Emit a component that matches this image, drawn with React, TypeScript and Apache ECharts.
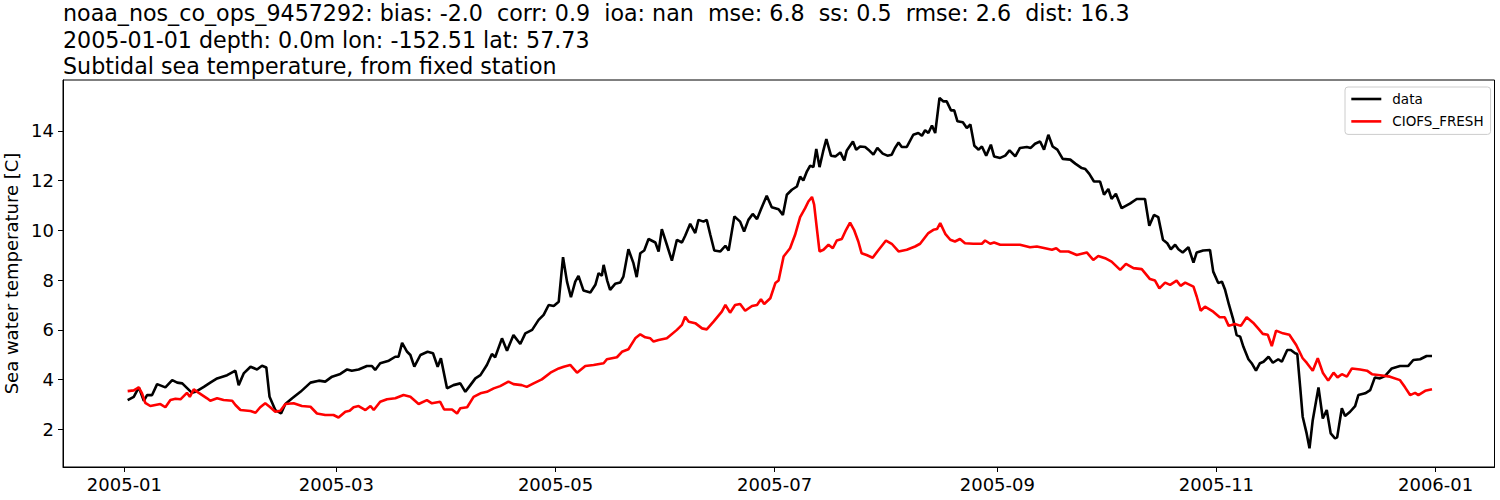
import React, { useEffect, useRef } from "react";
import * as echarts from "echarts";

const titleLines = [
  "noaa_nos_co_ops_9457292: bias: -2.0  corr: 0.9  ioa: nan  mse: 6.8  ss: 0.5  rmse: 2.6  dist: 16.3",
  "2005-01-01 depth: 0.0m lon: -152.51 lat: 57.73",
  "Subtidal sea temperature, from fixed station",
];
const yAxisTitle = "Sea water temperature [C]";
const seriesNames = ["data", "CIOFS_FRESH"];
const xTickLabels = ["2005-01", "2005-03", "2005-05", "2005-07", "2005-09", "2005-11", "2006-01"];
const yTickValues = [2, 4, 6, 8, 10, 12, 14];

// days after 2005-01-01
const obsDays = [
  0.9, 2.6, 4.0, 5.4, 6.3, 7.7, 9.1, 11.4, 13.3, 14.7, 16.1, 18.8, 19.8, 22.1, 23.9, 25.8, 28.6, 30.9, 31.8, 33.2,
  35.1, 36.9, 38.3, 39.5, 40.4, 42.0, 43.6, 44.8, 46.7, 49.0, 51.8, 54.1, 55.9, 57.8, 60.1, 62.0, 63.3, 65.2, 67.5, 68.9,
  69.8, 71.2, 73.6, 75.4, 76.3, 77.3, 78.7, 79.6, 80.7, 82.4, 84.4, 85.9, 87.2, 88.1, 89.8, 91.6, 93.5, 94.9, 96.3, 97.7,
  99.1, 100.9, 102.3, 103.2, 105.1, 106.5, 108.3, 110.2, 111.6, 113.5, 115.3, 116.7, 118.1, 119.5, 120.9, 122.1, 123.2, 124.3, 125.5, 126.4,
  127.8, 129.7, 131.1, 132.0, 132.9, 133.4, 134.4, 135.2, 136.6, 138.0, 138.9, 140.3, 141.7, 142.6, 143.6, 144.7, 145.9, 147.8, 148.7, 149.6,
  151.0, 152.4, 153.8, 155.2, 156.1, 157.5, 158.9, 159.8, 161.2, 162.1, 163.1, 164.2, 165.9, 167.3, 168.2, 169.8, 171.4, 172.5, 173.7, 174.9,
  176.1, 177.2, 178.8, 180.2, 182.1, 183.3, 184.4, 185.8, 187.2, 188.1, 189.0, 190.0, 190.9, 191.8, 192.6, 193.5, 194.5, 195.4, 196.7, 197.9,
  199.3, 200.4, 201.1, 202.8, 203.7, 204.8, 206.2, 207.1, 208.5, 209.6, 211.1, 212.4, 213.6, 214.5, 215.5, 216.4, 217.8, 219.6, 221.0, 222.0,
  222.9, 223.8, 224.8, 225.7, 226.9, 228.0, 228.9, 230.1, 231.0, 231.9, 233.4, 234.5, 235.5, 236.6, 237.8, 238.7, 239.9, 241.2, 242.1, 243.8,
  245.2, 246.4, 248.0, 249.3, 251.2, 252.3, 253.5, 254.9, 256.0, 257.2, 258.4, 259.7, 261.2, 263.3, 264.7, 266.5, 267.5, 268.6, 269.9, 271.6,
  272.7, 273.9, 274.8, 276.0, 277.6, 279.9, 281.8, 284.1, 285.3, 286.6, 287.8, 289.1, 290.3, 291.3, 292.5, 293.4, 294.6, 296.2, 297.6, 298.5,
  300.3, 302.2, 303.1, 304.5, 305.5, 306.4, 307.5, 308.7, 309.6, 310.6, 311.5, 312.9, 313.8, 315.0, 316.1, 317.1, 318.5, 319.7, 321.2, 322.2,
  323.7, 324.7, 325.9, 326.5, 327.3, 328.0, 329.1, 329.9, 330.8, 332.4, 333.6, 334.7, 335.8, 337.0, 337.6, 338.9, 339.8, 341.2, 342.6, 343.5,
  345.4, 346.8, 348.1, 349.5, 350.9, 352.8, 355.1, 357.4, 358.8, 360.7, 362.5, 364.0,
];
const obsTemps = [
  3.18, 3.31, 3.69, 3.15, 3.38, 3.38, 3.82, 3.69, 3.98, 3.88, 3.85, 3.47, 3.51, 3.71, 3.88, 4.05, 4.18, 4.36, 3.78, 4.25,
  4.52, 4.41, 4.56, 4.49, 3.31, 2.78, 2.64, 3.02, 3.25, 3.51, 3.88, 3.96, 3.92, 4.12, 4.23, 4.41, 4.36, 4.41, 4.55, 4.55,
  4.39, 4.66, 4.76, 4.92, 4.92, 5.48, 5.12, 4.99, 4.52, 4.99, 5.12, 5.06, 4.52, 4.86, 3.65, 3.78, 3.85, 3.51, 3.78, 4.05,
  4.18, 4.59, 5.03, 4.90, 5.66, 5.16, 5.79, 5.43, 5.86, 6.00, 6.40, 6.60, 7.00, 6.96, 7.13, 8.92, 7.94, 7.31, 7.94, 8.17,
  7.58, 7.50, 7.81, 8.28, 8.17, 8.61, 7.98, 7.61, 7.85, 7.90, 8.14, 9.24, 8.68, 8.12, 9.08, 9.19, 9.65, 9.51, 9.15, 10.05,
  9.42, 8.78, 9.62, 9.51, 9.78, 10.26, 9.89, 10.42, 10.35, 10.42, 9.82, 9.19, 9.15, 9.38, 9.19, 10.56, 10.35, 9.95, 10.42, 10.66,
  10.45, 10.85, 11.39, 10.93, 10.85, 10.62, 11.43, 11.63, 11.76, 12.16, 12.0, 12.37, 12.60, 12.54, 13.27, 12.54, 13.17, 13.67, 13.00, 12.97,
  13.13, 12.81, 13.21, 13.57, 13.24, 13.37, 13.35, 13.24, 13.04, 13.31, 13.08, 13.00, 13.04, 13.31, 13.53, 13.35, 13.35, 13.84, 13.91, 13.80,
  14.02, 13.91, 14.21, 13.91, 15.32, 15.18, 15.18, 14.82, 14.82, 14.38, 14.34, 14.11, 14.25, 13.40, 13.24, 13.37, 13.00, 13.44, 12.97, 12.91,
  13.00, 13.21, 12.97, 13.31, 13.35, 13.31, 13.48, 13.57, 13.24, 13.84, 13.37, 13.24, 12.87, 12.84, 12.68, 12.50, 12.46, 12.27, 11.96, 11.96,
  11.43, 11.66, 11.26, 11.47, 10.89, 11.07, 11.26, 11.26, 10.18, 10.62, 10.53, 9.62, 9.48, 9.24, 9.42, 9.24, 9.11, 9.32, 8.70, 9.11,
  9.19, 9.21, 8.34, 7.88, 7.94, 7.61, 7.00, 6.40, 5.79, 5.73, 5.32, 4.82, 4.66, 4.36, 4.66, 4.72, 4.92, 4.68, 4.82, 4.72,
  5.19, 5.19, 5.06, 5.03, 3.71, 2.51, 1.84, 1.24, 2.37, 3.69, 2.44, 2.78, 1.84, 1.64, 1.68, 2.85, 2.54, 2.71, 2.94, 3.38,
  3.45, 3.58, 4.09, 4.05, 4.14, 4.45, 4.55, 4.55, 4.79, 4.82, 4.95, 4.95,
];

const modelDays = [
  0.9, 2.6, 4.0, 4.9, 5.8, 7.2, 8.6, 10.0, 11.4, 12.8, 14.2, 15.6, 17.4, 18.2, 19.3, 20.7, 23.0, 23.9, 25.8, 27.6,
  30.0, 30.9, 32.3, 35.1, 36.5, 37.8, 39.2, 40.6, 42.0, 43.4, 44.8, 47.1, 49.4, 51.8, 53.6, 55.9, 58.2, 59.6, 61.5, 62.7,
  63.8, 65.2, 67.1, 68.5, 69.4, 71.2, 73.1, 75.4, 77.7, 79.6, 81.9, 84.2, 85.6, 87.9, 89.0, 91.2, 92.6, 93.5, 95.4, 97.2,
  99.1, 100.9, 102.8, 104.6, 106.9, 108.3, 110.6, 112.0, 113.9, 116.2, 118.6, 120.9, 122.3, 124.1, 126.0, 128.3, 130.6, 133.4, 134.3, 137.1,
  138.5, 140.3, 142.2, 143.6, 145.0, 146.4, 147.3, 148.7, 151.0, 153.8, 155.2, 156.1, 157.1, 158.9, 160.8, 162.1, 164.0, 166.3, 167.3, 168.6,
  170.0, 171.4, 172.8, 174.7, 176.1, 177.2, 178.1, 179.8, 181.2, 182.1, 183.5, 185.3, 186.7, 188.1, 189.5, 190.4, 191.4, 192.0, 192.8, 193.5,
  194.6, 196.0, 197.2, 198.3, 199.7, 200.9, 202.0, 203.1, 204.3, 205.2, 206.6, 208.3, 209.6, 212.0, 213.6, 215.5, 217.8, 220.1, 221.5, 223.8,
  225.2, 226.2, 227.1, 228.5, 229.9, 231.2, 232.6, 234.0, 236.3, 238.7, 239.6, 241.0, 242.1, 243.8, 246.6, 249.3, 252.1, 254.0, 256.3, 258.2,
  259.4, 260.5, 262.8, 265.1, 267.9, 269.7, 271.1, 273.0, 274.8, 277.2, 278.8, 280.9, 283.2, 285.5, 286.9, 288.1, 289.7, 291.1, 292.9, 294.0,
  295.3, 297.6, 298.5, 299.6, 300.8, 303.1, 304.9, 306.3, 307.4, 309.1, 310.8, 312.4, 314.2, 315.6, 316.9, 318.3, 319.4, 320.6, 322.5, 324.3,
  326.2, 328.0, 329.1, 330.8, 332.2, 333.6, 335.1, 336.6, 337.7, 338.9, 340.3, 341.7, 344.0, 345.9, 347.3, 349.5, 352.3, 355.1, 356.5, 357.9,
  359.3, 360.2, 362.1, 364.0,
];
const modelTemps = [
  3.54, 3.57, 3.69, 3.45, 3.07, 2.94, 2.98, 3.02, 2.89, 3.18, 3.23, 3.21, 3.47, 3.31, 3.61, 3.47, 3.25, 3.15, 3.25, 3.18,
  3.15, 2.98, 2.78, 2.74, 2.67, 2.89, 3.05, 2.89, 2.71, 2.75, 3.02, 3.05, 2.94, 2.91, 2.64, 2.58, 2.58, 2.48, 2.71, 2.75,
  2.89, 2.94, 2.78, 2.94, 2.78, 3.11, 3.21, 3.25, 3.38, 3.31, 3.02, 3.18, 3.05, 3.11, 2.80, 2.80, 2.64, 2.85, 2.89, 3.31,
  3.45, 3.51, 3.65, 3.74, 3.92, 3.82, 3.78, 3.71, 3.85, 4.01, 4.28, 4.45, 4.52, 4.59, 4.28, 4.55, 4.59, 4.66, 4.82, 4.90,
  5.12, 5.22, 5.66, 5.82, 5.70, 5.66, 5.53, 5.59, 5.66, 6.00, 6.20, 6.53, 6.33, 6.27, 6.06, 6.02, 6.33, 6.73, 7.00, 6.69,
  7.00, 7.04, 6.77, 6.96, 7.00, 7.23, 7.04, 7.27, 7.88, 7.98, 8.95, 9.28, 9.82, 10.53, 10.89, 11.16, 11.34, 11.03, 10.02, 9.15,
  9.22, 9.42, 9.28, 9.59, 9.65, 10.02, 10.31, 10.02, 9.55, 9.08, 9.01, 8.90, 9.15, 9.59, 9.46, 9.15, 9.22, 9.35, 9.46, 9.89,
  10.02, 10.05, 10.29, 9.86, 9.62, 9.55, 9.65, 9.48, 9.46, 9.46, 9.59, 9.46, 9.51, 9.42, 9.42, 9.42, 9.32, 9.35, 9.28, 9.22,
  9.28, 9.15, 9.15, 9.01, 9.11, 8.81, 8.97, 8.88, 8.74, 8.41, 8.65, 8.48, 8.44, 8.04, 7.98, 7.67, 7.90, 7.81, 7.98, 7.77,
  7.90, 7.74, 7.34, 6.77, 6.93, 6.73, 6.51, 6.51, 6.16, 6.24, 6.16, 6.51, 6.29, 6.06, 5.84, 5.80, 5.35, 5.97, 5.86, 5.80,
  5.39, 4.86, 4.68, 4.36, 4.86, 4.28, 3.96, 4.28, 4.09, 4.22, 4.12, 4.45, 4.41, 4.36, 4.22, 4.18, 4.12, 3.98, 3.69, 3.38,
  3.47, 3.38, 3.55, 3.61,
];

const DAY_MS = 86400000;
const T0 = Date.UTC(2005, 0, 1);
const toMs = (d: number) => T0 + d * DAY_MS;
const xTickValues = xTickLabels.map((s) => {
  const [y, m] = s.split("-").map(Number);
  return Date.UTC(y, m - 1, 1);
});
const FONT = "DejaVu Sans";

export default function App() {
  const ref = useRef<HTMLDivElement>(null);
  useEffect(() => {
    if (!ref.current) return;
    const chart = echarts.init(ref.current, null, { renderer: "svg" });
    const obsData = obsDays.map((d, i) => [toMs(d), obsTemps[i]]);
    const modelData = modelDays.map((d, i) => [toMs(d), modelTemps[i]]);
    chart.setOption({
      animation: false,
      backgroundColor: "#ffffff",
      title: {
        text: titleLines.join("\n"),
        left: 63,
        top: 0,
        padding: 0,
        textStyle: {
          fontFamily: FONT,
          fontSize: 22.2,
          fontWeight: "normal",
          color: "#000000",
          lineHeight: 26.5,
        },
      },
      legend: {
        orient: "vertical",
        left: 1345,
        top: 87,
        padding: [5, 7, 6, 5],
        itemWidth: 30,
        itemHeight: 14,
        itemGap: 8.4,
        borderColor: "#cccccc",
        borderWidth: 1,
        borderRadius: 3,
        backgroundColor: "rgba(255,255,255,0.8)",
        data: seriesNames,
        itemStyle: { opacity: 0, color: "rgba(0,0,0,0)", borderWidth: 0 },
        lineStyle: { width: 2.6 },
        textStyle: {
          fontFamily: FONT,
          fontSize: 13.5,
          color: "#000000",
          padding: [0, 0, 0, 6],
        },
      },
      grid: {
        left: 63,
        right: 5.5,
        top: 80,
        bottom: 33,
        outerBoundsMode: "none",
        containLabel: false,
        show: true,
        borderColor: "#000000",
        borderWidth: 1,
        backgroundColor: "transparent",
      },
      xAxis: {
        type: "value",
        min: toMs(-17.1),
        max: toMs(381.4),
        splitLine: { show: false },
        axisLine: { show: true, lineStyle: { color: "#000000", width: 1 } },
        axisTick: {
          show: true,
          customValues: xTickValues,
          length: 5,
          lineStyle: { color: "#000000", width: 1 },
        },
        axisLabel: {
          customValues: xTickValues,
          formatter: (v: number) => {
            const i = xTickValues.findIndex((t) => Math.abs(t - v) < DAY_MS / 2);
            return i >= 0 ? xTickLabels[i] : "";
          },
          fontFamily: FONT,
          fontSize: 18,
          color: "#000000",
          margin: 8,
        },
      },
      yAxis: {
        type: "value",
        min: 0.49,
        max: 16.04,
        name: yAxisTitle,
        nameLocation: "middle",
        nameGap: 42,
        nameTextStyle: { fontFamily: FONT, fontSize: 18, color: "#000000" },
        splitLine: { show: false },
        axisLine: { show: true, lineStyle: { color: "#000000", width: 1 } },
        axisTick: {
          show: true,
          customValues: yTickValues,
          length: 5,
          lineStyle: { color: "#000000", width: 1 },
        },
        axisLabel: {
          customValues: yTickValues,
          fontFamily: FONT,
          fontSize: 18,
          color: "#000000",
          margin: 9,
        },
      },
      series: [
        {
          name: seriesNames[0],
          type: "line",
          data: obsData,
          symbol: "none",
          showSymbol: false,
          lineStyle: { color: "#000000", width: 2.6 },
          itemStyle: { color: "#000000" },
          z: 2,
        },
        {
          name: seriesNames[1],
          type: "line",
          data: modelData,
          symbol: "none",
          showSymbol: false,
          lineStyle: { color: "#ff0000", width: 2.6 },
          itemStyle: { color: "#ff0000" },
          z: 3,
        },
      ],
    });
    return () => chart.dispose();
  }, []);
  return (
    <div
      ref={ref}
      style={{ position: "absolute", left: 0, top: 0, width: 1500, height: 500 }}
    />
  );
}
